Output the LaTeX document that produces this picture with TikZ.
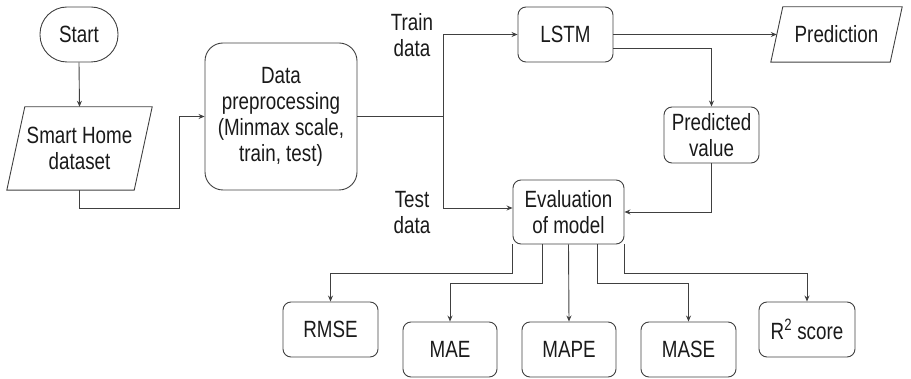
\documentclass[tikz,border=0pt]{standalone}
\usepackage{fontspec}
\setmainfont{Liberation Sans}[FakeStretch=0.8]
\usetikzlibrary{arrows.meta,calc}
\definecolor{lineclr}{HTML}{404040}
\definecolor{txtclr}{HTML}{1A1A1A}
\begin{document}
\begin{tikzpicture}[x=1pt,y=-1pt,
  every node/.style={text=txtclr,font=\fontsize{23.5}{26}\selectfont,inner sep=0pt,align=center},
  box/.style={draw=lineclr,line width=0.9pt,rounded corners=8pt,minimum width=#1},
  box/.default=95pt,
  plain/.style={minimum width=#1},
  link/.style={draw=lineclr,line width=0.9pt},
  arr/.style={link,-{Stealth[length=6pt,width=5pt]}}]
\useasboundingbox (0,0) rectangle (911,379);

% start terminator
\node[box=78pt,rounded corners=27pt,minimum height=55pt] (start) at (79,34.5) {Start};

% input data (parallelogram drawn around a plain node)
\node[plain=127pt,minimum height=83pt] (sh) at (79.5,148.5) {Smart Home\\dataset};
\draw[link] ($(sh.north west)+(9,0)$) -- ($(sh.north east)+(9,0)$)
  -- ($(sh.south east)+(-9,0)$) -- ($(sh.south west)+(-9,0)$) -- cycle;

% preprocessing
\node[box=152pt,rounded corners=18pt,minimum height=147pt] (pp) at (281,116.5)
  {Data\\preprocessing\\(Minmax scale,\\train, test)};

% model and outputs
\node[box,minimum height=55pt] (lstm) at (565.5,34.5) {LSTM};
\node[plain=119pt,minimum height=55pt] (pr) at (836.5,34.5) {Prediction};
\draw[link] ($(pr.north west)+(6,0)$) -- ($(pr.north east)+(6,0)$)
  -- ($(pr.south east)+(-6,0)$) -- ($(pr.south west)+(-6,0)$) -- cycle;
\node[box,minimum height=56pt] (pv) at (711.5,135) {Predicted\\value};
\node[box=111pt,minimum height=64pt] (ev) at (568.5,212) {Evaluation\\of model};

% metrics
\node[box,minimum height=55pt] (rmse) at (330.5,329.5) {RMSE};
\node[box=94pt,minimum height=55pt] (mae) at (450,349.5) {MAE};
\node[box=94pt,minimum height=55pt] (mape) at (569,349.5) {MAPE};
\node[box,minimum height=55pt] (mase) at (688.5,349.5) {MASE};
\node[box=96pt,minimum height=55pt] (r2) at (807,329.5) {R\textsuperscript{2} score};

% side labels
\node (trl) at (412,35) {Train\\data};
\node (tel) at (412,213) {Test\\data};

% connectors
\coordinate (b1) at (179,208);
\coordinate (sp) at (443,116.5);
\draw[arr] (start.south) -- (sh.north);
\draw[arr] (sh.south) |- (b1) |- (pp.west);
\draw[link] (pp.east) -- (sp);
\draw[arr] (sp) |- (lstm.west);
\draw[arr] (sp) |- ($(ev.west)+(0,-4)$);
\draw[arr] (lstm.east) -- (pr.west);
\draw[arr] ($(lstm.east)+(0,13.5)$) -| (pv.north);
\draw[arr] (pv.south) |- (ev.east);
\draw[arr] (ev.south west) -- ++(0,29) -| (rmse.north);
\draw[arr] ($(ev.south)+(-26.5,0)$) -- ++(0,39) -| (mae.north);
\draw[arr] (ev.south) -- (mape.north);
\draw[arr] ($(ev.south)+(28.5,0)$) -- ++(0,39) -| (mase.north);
\draw[arr] (ev.south east) -- ++(0,29) -| (r2.north);
\end{tikzpicture}
\end{document}
